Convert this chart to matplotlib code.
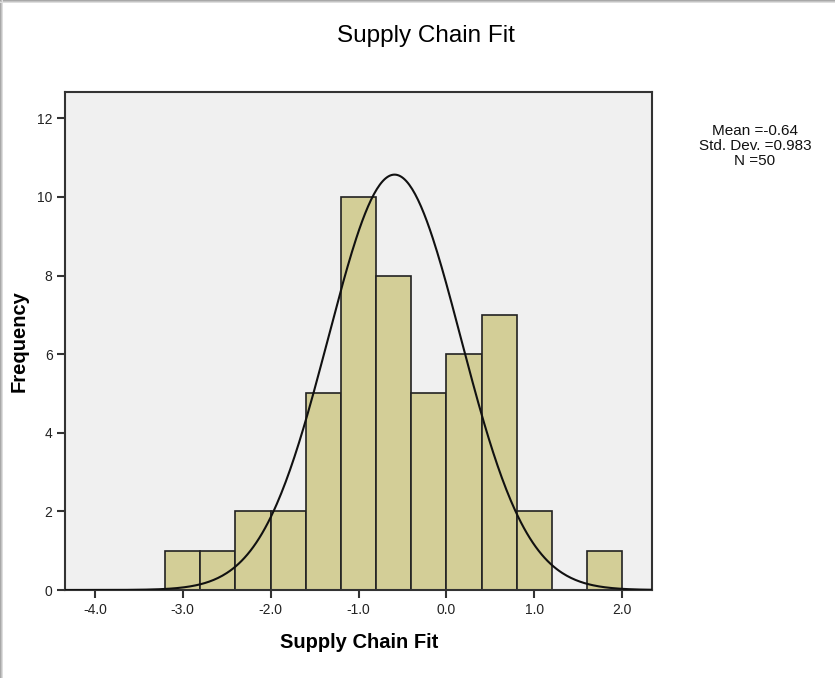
import numpy as np
import matplotlib
matplotlib.use('Agg')
import matplotlib.pyplot as plt
from matplotlib.patches import Rectangle

plt.rcParams['font.family'] = ['Liberation Sans', 'DejaVu Sans']

# Histogram data (bin width 0.4)
bin_left = [-3.2, -2.8, -2.4, -2.0, -1.6, -1.2, -0.8, -0.4, 0.0, 0.4, 0.8, 1.2, 1.6]
counts = [1, 1, 2, 2, 5, 10, 8, 5, 6, 7, 2, 0, 1]
bin_width = 0.4

# Stats shown in the legend box
mean_label = -0.64
sd_label = 0.983
n_obs = 50

# Normal curve as drawn
curve_mean = -0.59
curve_sd = 0.755

xticks = [-4.0, -3.0, -2.0, -1.0, 0.0, 1.0, 2.0]
yticks = [0, 2, 4, 6, 8, 10, 12]

W, H = 835, 678
fig = plt.figure(figsize=(W / 100, H / 100), dpi=100)
fig.patch.set_facecolor('white')

# screenshot-like shadow on top and left edges
for i, c in enumerate(['#a8a8a8', '#c4c4c4', '#dedede']):
    fig.add_artist(Rectangle((0, 1 - (i + 1) / H), 1, 1 / H, transform=fig.transFigure,
                             facecolor=c, edgecolor='none'))
    fig.add_artist(Rectangle((i / W, 0), 1 / W, 1, transform=fig.transFigure,
                             facecolor=c, edgecolor='none'))

ax = fig.add_axes([65 / W, (H - 590) / H, (652 - 65) / W, (590 - 92) / H])
ax.set_facecolor('#f0f0f0')

ax.bar(bin_left, counts, width=bin_width, align='edge', color='#d3ce97',
       edgecolor='#222222', linewidth=1.2, zorder=2)

xs = np.linspace(-4.34, 2.34, 400)
ys = n_obs * bin_width / (curve_sd * np.sqrt(2 * np.pi)) * np.exp(-0.5 * ((xs - curve_mean) / curve_sd) ** 2)
ax.plot(xs, ys, color='#111111', linewidth=1.5, zorder=3)

ax.set_xlim(-4.34, 2.34)
ax.set_ylim(0, 12.67)
ax.set_xticks(xticks)
ax.set_xticklabels([f'{t:.1f}' for t in xticks])
ax.set_yticks(yticks)
ax.tick_params(direction='out', length=6, width=1.5, color='#333333',
               labelsize=10, labelcolor='#222222', pad=3)
for s in ax.spines.values():
    s.set_color('#333333')
    s.set_linewidth(1.5)

ax.set_xlabel('Supply Chain Fit', fontsize=14.5, fontweight='bold')
ax.xaxis.set_label_coords((359 - 65) / (652 - 65), -(642 - 590) / (590 - 92))
ax.set_ylabel('Frequency', fontsize=14.5, fontweight='bold')
ax.yaxis.set_label_coords(-(65 - 19) / (652 - 65), 0.5)
ax.xaxis.label.set_va('center')
ax.yaxis.label.set_va('center')

fig.text(426 / W, (H - 36) / H, 'Supply Chain Fit', ha='center', va='center', fontsize=17.5)

fig.text(755 / W, (H - 146) / H,
         f'Mean ={mean_label}\nStd. Dev. ={sd_label}\nN ={n_obs}',
         ha='center', va='center', fontsize=11, linespacing=1.1, color='#111111')

fig.savefig('out.png', dpi=100)
